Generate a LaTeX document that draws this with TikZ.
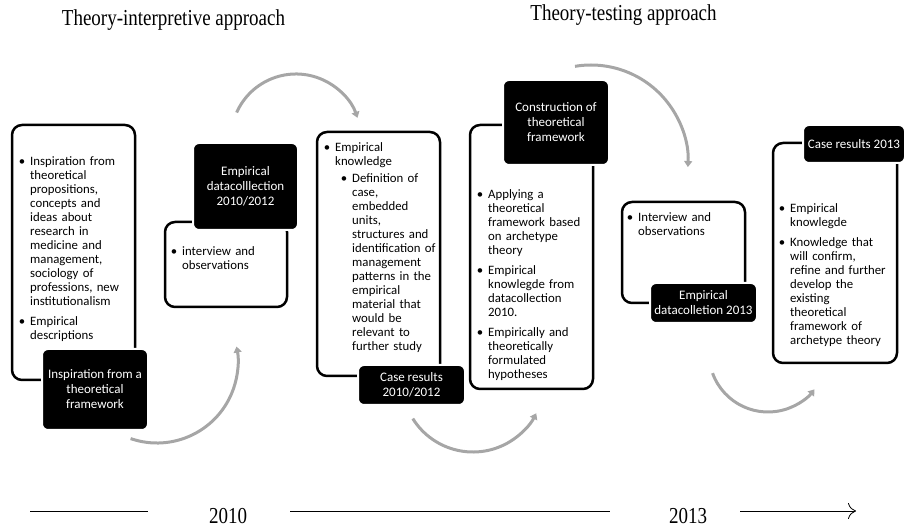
\documentclass[tikz,border=0pt]{standalone}
\usepackage{fontspec}
\setmainfont{Carlito}
\newfontfamily\timesfont{Liberation Serif}
\usepackage{enumitem}
\usetikzlibrary{arrows.meta}
\definecolor{arcgray}{RGB}{166,166,166}
\newcommand\boxfont{\fontsize{12.8}{14}\selectfont}
\newcommand\tallserif[1]{\scalebox{1}[1.2]{#1}}
\setlist[itemize]{label=\textbullet, leftmargin=10pt, labelsep=5pt, topsep=0pt, partopsep=0pt, parsep=0pt, itemsep=6pt}
\setlist[itemize,2]{leftmargin=17pt, topsep=3pt, itemsep=0pt}
\tikzset{
    card/.style={draw=black, line width=2.5pt, rounded corners=10pt, fill=white},
    stage/.style={fill=black, draw=white, line width=2pt, rounded corners=6pt, text=white, align=center,
        font=\fontsize{13}{15}\selectfont},
    notes/.style={anchor=north west, inner sep=0pt, text width=125pt, align=left, font=\boxfont},
    flow/.style={draw=arcgray, line width=3pt, -{Triangle[length=6pt,width=8pt]}},
    heading/.style={font=\timesfont\fontsize{19}{22}\selectfont}
}

\begin{document}
\begin{tikzpicture}[x=1pt, y=1pt]
    \useasboundingbox (0,0) rectangle (907,530);
    % Titel
    \node[heading] (interp) at (173.5,510) {\tallserif{Theory-interpretive approach}};
    \node[heading] (testing) at (623.5,515) {\tallserif{Theory-testing approach}};

    % Rahmen
    \node[card, minimum width=123pt, minimum height=255pt] (card1) at (73.5,277.5) {};
    \node[card, minimum width=122pt, minimum height=85pt] (card2) at (226,265.5) {};
    \node[card, minimum width=123pt, minimum height=244pt] (card3) at (378.5,276) {};
    \node[card, minimum width=123pt, minimum height=264pt] (card4) at (531.5,273) {};
    \node[card, minimum width=123pt, minimum height=101pt] (card5) at (683.5,277.5) {};
    \node[card, minimum width=124pt, minimum height=220pt] (card6) at (835,277) {};

    % Inhalt
    \node[notes] (notes1) at (20,379) {\begin{itemize}
        \item Inspiration from\\ theoretical\\ propositions,\\ concepts and\\ ideas about\\ research in\\ medicine and\\ management,\\ sociology of\\ professions, new\\ institutionalism
        \item Empirical\\ descriptions
    \end{itemize}};
    \node[notes] (notes2) at (172,289) {\begin{itemize}
        \item interview and\\ observations
    \end{itemize}};
    \node[notes] (notes3) at (325,393) {\begin{itemize}
        \item Empirical\\ knowledge
        \begin{itemize}
            \item Definition of\\ case,\\ embedded\\ units,\\ structures and\\ identification of\\ management\\ patterns in the\\ empirical\\ material that\\ would be\\ relevant to\\ further study
        \end{itemize}
    \end{itemize}};
    \node[notes] (notes4) at (478,346) {\begin{itemize}
        \item Applying a\\ theoretical\\ framework based\\ on archetype\\ theory
        \item Empirical\\ knowlegde from\\ datacollection\\ 2010.
        \item Empirically and\\ theoretically\\ formulated\\ hypotheses
    \end{itemize}};
    \node[notes] (notes5) at (628,323) {\begin{itemize}
        \item Interview and\\ observations
    \end{itemize}};
    \node[notes] (notes6) at (780,332) {\begin{itemize}
        \item Empirical\\ knowlegde
        \item Knowledge that\\ will confirm,\\ refine and further\\ develop the\\ existing\\ theoretical\\ framework of\\ archetype theory
    \end{itemize}};

    % Schritte
    \node[stage, minimum width=106pt, minimum height=81pt] (stage1) at (95,140.5) {Inspiration from a\\ theoretical\\ framework};
    \node[stage, minimum width=105pt, minimum height=87pt] (stage2) at (245.5,343.5) {Empirical\\ datacolllection\\ 2010/2012};
    \node[stage, minimum width=107pt, minimum height=40pt] (stage3) at (411.5,145) {Case results\\ 2010/2012};
    \node[stage, minimum width=106pt, minimum height=85pt] (stage4) at (556,407.5) {Construction of\\ theoretical\\ framework};
    \node[stage, minimum width=107pt, minimum height=40pt] (stage5) at (703.5,227) {Empirical\\ datacolletion 2013};
    \node[stage, minimum width=102pt, minimum height=38pt] (stage6) at (854,386) {Case results 2013};

    % Boegen
    \coordinate (bendA) at (157,168);
    \coordinate (bendB) at (296,391);
    \coordinate (bendC) at (473,149);
    \coordinate (bendD) at (591,368);
    \coordinate (bendE) at (768,177);
    \draw[flow] (bendA) ++(251:81) arc[start angle=251, end angle=371, radius=81];
    \draw[flow] (bendB) ++(156:65) arc[start angle=156, end angle=19, radius=65];
    \draw[flow] (bendC) ++(212:71) arc[start angle=212, end angle=333, radius=71];
    \draw[flow] (bendD) ++(99.5:97) arc[start angle=99.5, end angle=-3, radius=97];
    \draw[flow] (bendE) ++(200:59) arc[start angle=200, end angle=322, radius=59];

    % Zeitachse
    \node[heading] (yr2010) at (228,14) {\tallserif{2010}};
    \node[heading] (yr2013) at (688,14) {\tallserif{2013}};
    \coordinate (t0) at (30,19);
    \coordinate (t1) at (148,19);
    \coordinate (t2) at (290,19);
    \coordinate (t3) at (610,19);
    \coordinate (t4) at (740,19);
    \coordinate (t5) at (856,19);
    \draw[line width=0.8pt] (t0) -- (t1);
    \draw[line width=0.8pt] (t2) -- (t3);
    \draw[line width=0.8pt, -{To[length=8pt,width=16pt]}] (t4) -- (t5);
\end{tikzpicture}
\end{document}
